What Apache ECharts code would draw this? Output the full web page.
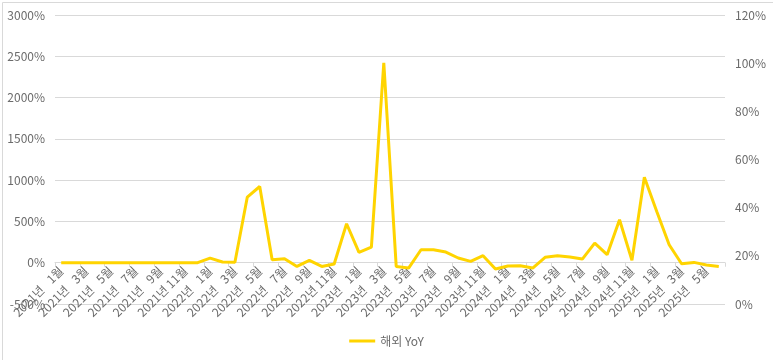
<!DOCTYPE html>
<html>
<head>
<meta charset="utf-8">
<script src="https://cdn.jsdelivr.net/npm/echarts@6/dist/echarts.min.js"></script>
<style>
html,body{margin:0;padding:0;background:#fff;}
#c{width:773px;height:360px;}
</style>
</head>
<body>
<div id="c"></div>
<script>
// Months Jan 2021 .. Jun 2025
const years = [2021, 2022, 2023, 2024, 2025];
const categories = [];
years.forEach(function (y) {
  for (let m = 1; m <= 12; m++) {
    if (y === 2025 && m > 6) break;
    categories.push(y + '년 ' + (m < 10 ? '\u2007' : '') + m + '월');
  }
});
const seriesName = '해외 YoY';
const yoyValues = [
  0, 0, 0, 0, 0, 0, 0, 0, 0, 0, 0, 0,
  55, 8, 5, 795, 923, 36, 48, -45, 28, -45, -16, 472,
  125, 190, 2422, -45, -65, 157, 157, 129, 57, 16, 85, -77,
  -40, -36, -65, 65, 85, 69, 44, 238, 97, 520, 28, 1036,
  621, 218, -12, 4, -28, -45
];
const leftTicks = { min: -500, max: 3000, interval: 500 };
const rightTicks = { min: 0, max: 120, interval: 20 };

const font = '"Noto Sans CJK KR", "Noto Sans", sans-serif';
const textColor = '#6b6b6b';
const gridTop = 15, gridBottom = 56, H = 360;
const plotH = H - gridTop - gridBottom;
const zeroOffset = -plotH * (0 - leftTicks.min) / (leftTicks.max - leftTicks.min);

const chart = echarts.init(document.getElementById('c'));
chart.setOption({
  animation: false,
  textStyle: { fontFamily: font },
  grid: { left: 55, right: 48, top: gridTop, bottom: gridBottom, containLabel: false },
  legend: {
    bottom: 8,
    left: 'center',
    data: [seriesName],
    itemWidth: 26,
    itemHeight: 3,
    itemGap: 4,
    icon: 'rect',
    textStyle: { color: textColor, fontSize: 12, fontFamily: font }
  },
  xAxis: {
    type: 'category',
    data: categories,
    boundaryGap: true,
    offset: zeroOffset,
    axisLine: { onZero: false, lineStyle: { color: '#d9d9d9' } },
    axisTick: { show: true, interval: 1, length: 4, lineStyle: { color: '#d9d9d9' } },
    axisLabel: { interval: 1, rotate: 45, color: textColor, fontSize: 12, margin: 6, fontFamily: font },
    splitLine: { show: false }
  },
  yAxis: [
    {
      type: 'value',
      min: leftTicks.min, max: leftTicks.max, interval: leftTicks.interval,
      axisLine: { show: false }, axisTick: { show: false },
      axisLabel: { formatter: function (v) { return v + '%'; }, color: textColor, fontSize: 12, margin: 10, fontFamily: font },
      splitLine: { lineStyle: { color: '#d9d9d9', width: 1 } }
    },
    {
      type: 'value', position: 'right',
      min: rightTicks.min, max: rightTicks.max, interval: rightTicks.interval,
      axisLine: { show: false }, axisTick: { show: false },
      axisLabel: { formatter: function (v) { return v + '%'; }, color: textColor, fontSize: 12, margin: 10, fontFamily: font },
      splitLine: { show: false }
    }
  ],
  graphic: [{
    type: 'rect', left: 0, top: 0, silent: true, z: -10,
    shape: { x: 0.5, y: 0.5, width: 771, height: 358 },
    style: { fill: 'none', stroke: '#d9d9d9', lineWidth: 1 }
  }],
  series: [{
    name: seriesName,
    type: 'line',
    yAxisIndex: 0,
    data: yoyValues,
    symbol: 'none',
    lineStyle: { color: '#FFD400', width: 3 },
    itemStyle: { color: '#FFD400' }
  }]
});
</script>
</body>
</html>
